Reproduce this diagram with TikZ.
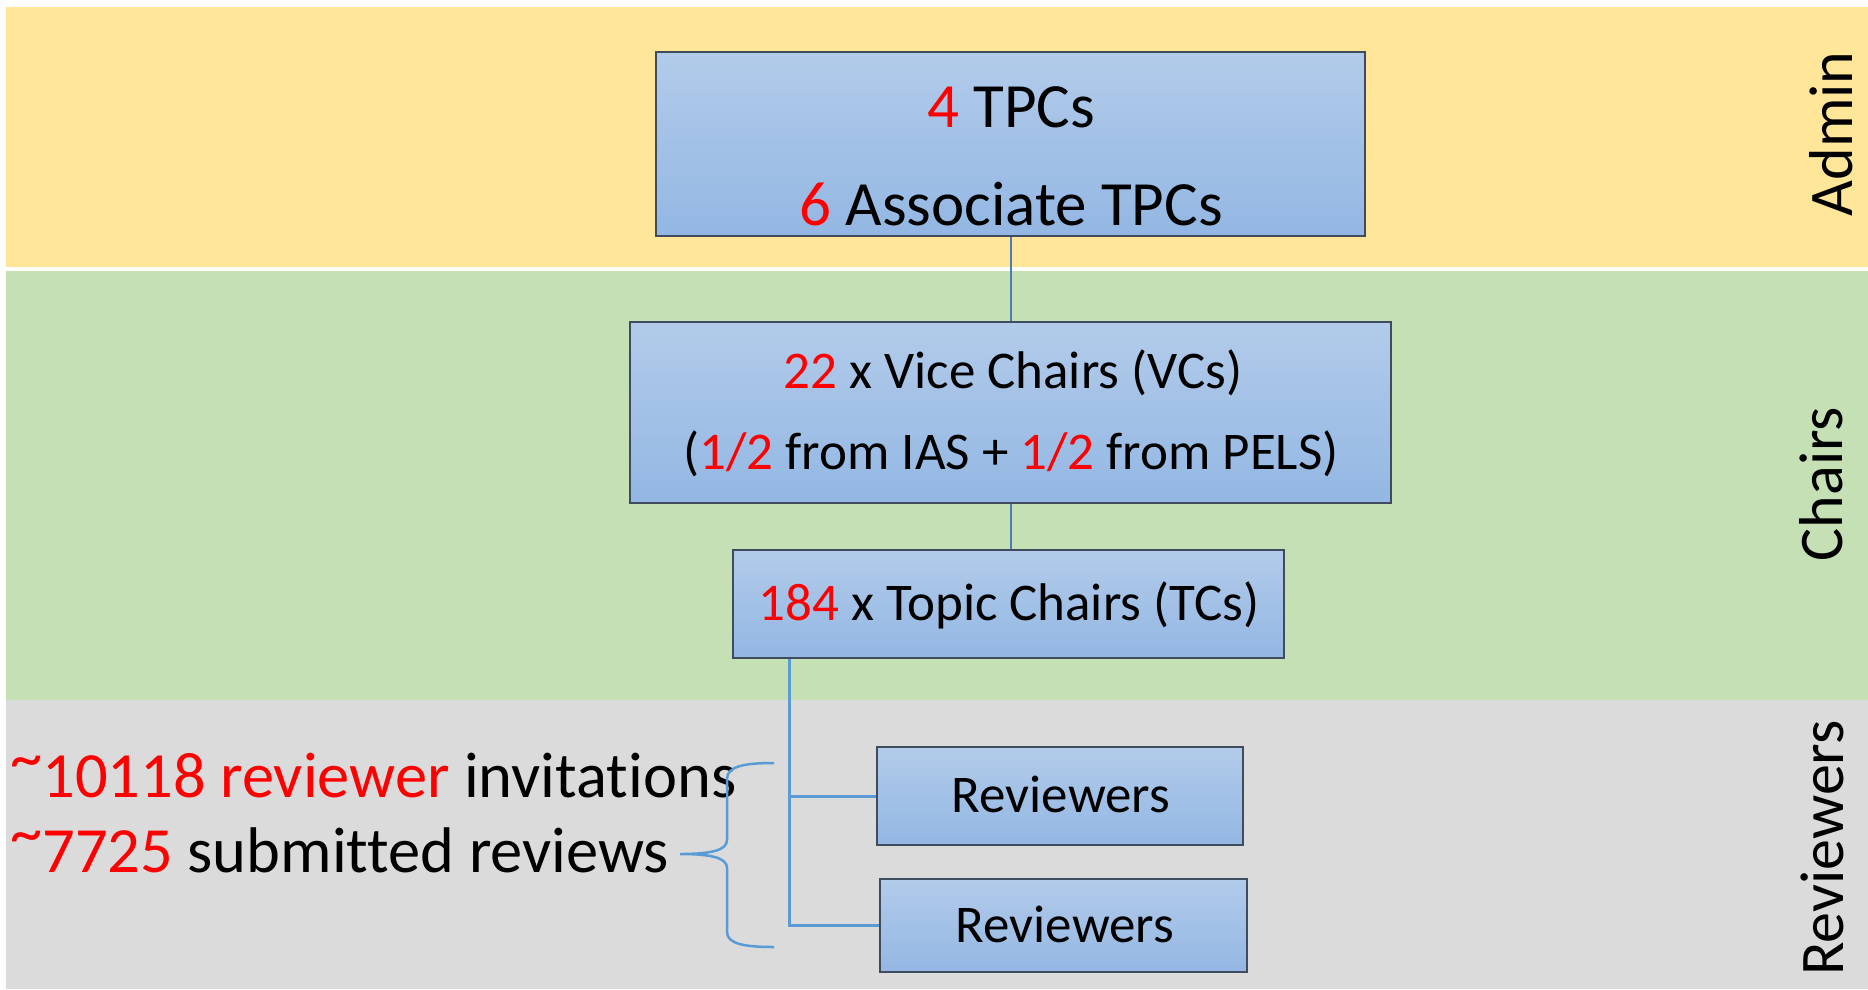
\documentclass[tikz,border=0pt]{standalone}
\usepackage{fontspec}
\setmainfont{Carlito}[Ligatures={NoCommon,NoRequired,NoContextual}]
\definecolor{bandY}{HTML}{FFE699}
\definecolor{bandG}{HTML}{C5E0B4}
\definecolor{bandR}{HTML}{DBDBDB}
\definecolor{boxTop}{HTML}{B2CBEA}
\definecolor{boxBot}{HTML}{93B7E3}
\definecolor{boxLine}{HTML}{3E4C5E}
\definecolor{linkA}{HTML}{4A7EBB}
\definecolor{linkB}{HTML}{5B9BD5}
\newcommand{\rd}[1]{\textcolor{red}{#1}}
\newcommand{\hitilde}{\raisebox{0.27em}{\textasciitilde}}
\tikzset{
  box/.style={draw=boxLine, line width=1.5pt, top color=boxTop, bottom color=boxBot, inner sep=0pt},
  midtxt/.style={font=\fontsize{53}{60}\selectfont, inner sep=0pt, anchor=base},
  bigtxt/.style={font=\fontsize{63}{72}\selectfont, inner sep=0pt},
  lefttxt/.style={font=\fontsize{64.5}{72}\selectfont, inner sep=0pt, anchor=base west},
  sidelbl/.style={font=\fontsize{62}{70}\selectfont, inner sep=0pt, rotate=90, anchor=base},
  linkup/.style={draw=linkA, line width=2pt},
  linklow/.style={draw=linkB, line width=3pt},
}
\begin{document}
\begin{tikzpicture}[x=1pt,y=-1pt]
\useasboundingbox (0,0) rectangle (1868,989);
% bands
\fill[bandY] (6,7) rectangle (1868,267);
\fill[bandG] (6,271) rectangle (1868,700);
\fill[bandR] (6,700) rectangle (1868,989);
% side labels
\node[sidelbl] (lAdmin) at (1852,134) {Admin};
\node[sidelbl] (lChairs) at (1842,484) {Chairs};
\node[sidelbl] (lRev) at (1843,848) {Reviewers};
% boxes
\node[box, minimum width=709pt, minimum height=184pt] (tpc) at (1010.5,144) {};
\node[box, minimum width=761pt, minimum height=181pt] (vc) at (1010.5,412.5) {};
\node[box, minimum width=551pt, minimum height=108pt] (tc) at (1008.5,604) {};
\node[box, minimum width=366pt, minimum height=98pt] (r1) at (1060,796) {};
\node[box, minimum width=367pt, minimum height=93pt] (r2) at (1063.5,925.5) {};
% box texts
\node[bigtxt, anchor=base] (t1) at (1011,127) {\rd{4} TPCs};
\node[bigtxt, anchor=base] (t2) at (1011,225) {\rd{6} Associate TPCs};
\node[midtxt] (t3) at (1013,388) {\rd{22} x Vice Chairs (VCs)};
\node[midtxt] (t4) at (1011,469) {(\rd{1/2} from IAS + \rd{1/2} from PELS)};
\node[midtxt] (t5) at (1009,620) {\rd{184} x Topic Chairs (TCs)};
\node[midtxt] (t6) at (1061,812) {Reviewers};
\node[midtxt] (t7) at (1065,942) {Reviewers};
% left texts
\node[lefttxt] (inv) at (10,797) {\rd{\hitilde 10118 reviewer} invitations};
\node[lefttxt] (sub) at (10,872) {\rd{\hitilde 7725} submitted reviews};
% connectors
\draw[linkup] (tpc.south) -- (vc.north);
\draw[linkup] (vc.south) -- (vc.south |- tc.north);
\coordinate (trunk) at (789,658);
\draw[linklow] (trunk |- tc.south) |- (r1.west);
\draw[linklow] (trunk |- tc.south) |- (r2.west);
% brace
\coordinate (bt) at (774,763);
\coordinate (bm) at (680,854);
\coordinate (bb) at (774,947);
\draw[linkB, line width=2.5pt] (bt) .. controls (745,763) and (727,766) .. (727,779) -- (727,840) .. controls (727,850) and (712,854) .. (bm) .. controls (712,854) and (727,858) .. (727,868) -- (727,932) .. controls (727,944) and (745,947) .. (bb);
\end{tikzpicture}
\end{document}
